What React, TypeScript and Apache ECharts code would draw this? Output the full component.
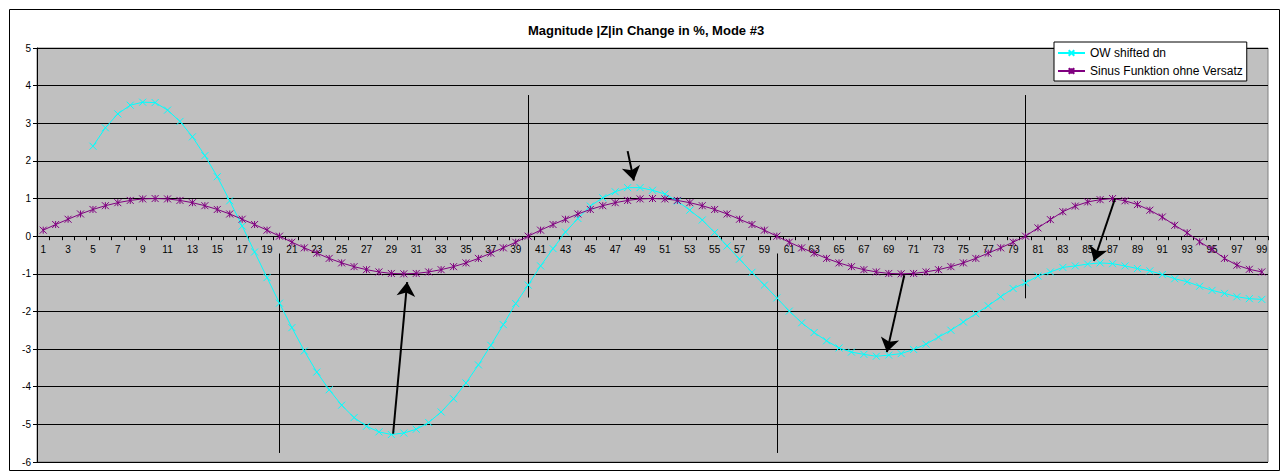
import React, { useEffect, useRef } from "react";
import * as echarts from "echarts";

const categories: string[] = Array.from({ length: 99 }, (_, i) => String(i + 1));

const owShiftedDn: (number | null)[] = [
  null, null, null, null,
  2.39, 2.88, 3.25, 3.48, 3.56, 3.55, 3.35, 3.05, 2.64, 2.14, 1.58, 0.94, 0.27, -0.42, -1.10, -1.78,
  -2.43, -3.05, -3.61, -4.08, -4.49, -4.82, -5.05, -5.20, -5.27, -5.23, -5.13, -4.95, -4.67, -4.32, -3.90, -3.42,
  -2.90, -2.35, -1.79, -1.30, -0.79, -0.33, 0.11, 0.47, 0.80, 1.02, 1.18, 1.29, 1.29, 1.22, 1.12, 0.93,
  0.69, 0.43, 0.10, -0.26, -0.61, -0.96, -1.30, -1.64, -1.99, -2.30, -2.56, -2.78, -2.97, -3.08, -3.14, -3.19,
  -3.16, -3.12, -3.01, -2.87, -2.68, -2.50, -2.28, -2.06, -1.85, -1.61, -1.39, -1.24, -1.06, -0.95, -0.83, -0.79,
  -0.74, -0.71, -0.73, -0.79, -0.86, -0.92, -1.02, -1.13, -1.21, -1.33, -1.44, -1.52, -1.61, -1.66, -1.68,
];

const sinusOhneVersatz: number[] = [
  0.16, 0.31, 0.45, 0.59, 0.71, 0.81, 0.89, 0.95, 0.99, 1.0, 0.99, 0.95, 0.89, 0.81, 0.71, 0.59, 0.45, 0.31, 0.16, 0,
  -0.16, -0.31, -0.45, -0.59, -0.71, -0.81, -0.89, -0.95, -0.99, -1.0, -0.99, -0.95, -0.89, -0.81, -0.71, -0.59, -0.45, -0.31, -0.16, 0,
  0.16, 0.31, 0.45, 0.59, 0.71, 0.81, 0.89, 0.95, 0.99, 1.0, 0.99, 0.95, 0.89, 0.81, 0.71, 0.59, 0.45, 0.31, 0.16, 0,
  -0.16, -0.31, -0.45, -0.59, -0.71, -0.81, -0.89, -0.95, -0.99, -1.0, -0.99, -0.95, -0.89, -0.81, -0.71, -0.59, -0.45, -0.31, -0.16, 0,
  0.22, 0.44, 0.65, 0.80, 0.91, 0.97, 1.0, 0.94, 0.84, 0.69, 0.51, 0.29, 0.09, -0.15, -0.35, -0.59, -0.77, -0.88, -0.95,
];

// vertical marker lines: [x, yTop, yBottom]
const markerLines: number[][] = [
  [20, -0.46, -5.76],
  [40, 3.75, -1.63],
  [60, -0.46, -5.76],
  [80, 3.75, -1.65],
];

// arrows: [xTail, yTail, xTip, yTip]
const arrows: number[][] = [
  [29.14, -5.25, 30.27, -1.22],
  [48.0, 2.26, 48.5, 1.48],
  [70.25, -1.04, 68.85, -3.08],
  [87.2, 1.0, 85.5, -0.66],
];

const Y_MIN = -6;
const Y_MAX = 5;

const FONT = "Arial, 'Liberation Sans', sans-serif";
const CROSS = "path://M0,0L10,10M10,0L0,10";
const STAR = "path://M0,0L10,10M10,0L0,10M5,0L5,10";

const GRID_POS = { left: 37, top: 48, right: 14, bottom: 13 };
const PLOT_HEIGHT = 475 - GRID_POS.top - GRID_POS.bottom;
// distance of the zero line above the plot's bottom edge
const ZERO_OFFSET = (PLOT_HEIGHT * (0 - Y_MIN)) / (Y_MAX - Y_MIN);

export default function App() {
  const ref = useRef<HTMLDivElement>(null);
  useEffect(() => {
    if (!ref.current) return;
    const chart = echarts.init(ref.current, undefined, { renderer: "svg" });
    chart.setOption({
      animation: false,
      backgroundColor: "#ffffff",
      title: {
        text: "Magnitude |Z|in Change in %, Mode #3",
        left: 646,
        top: 24,
        textAlign: "center",
        textStyle: { fontFamily: FONT, fontSize: 13, fontWeight: "bold", color: "#000" },
        padding: 0,
      },
      legend: {
        orient: "vertical",
        left: 1054,
        top: 42,
        padding: [4, 4, 3, 3],
        itemGap: 4,
        itemWidth: 27,
        itemHeight: 7,
        backgroundColor: "#ffffff",
        borderColor: "#000000",
        borderWidth: 1,
        textStyle: { fontFamily: FONT, fontSize: 12, color: "#000", lineHeight: 14 },
        data: ["OW shifted dn", "Sinus Funktion ohne Versatz"],
      },
      graphic: [
        {
          type: "rect",
          shape: { x: 9.5, y: 9.5, width: 1270, height: 461 },
          style: { fill: "none", stroke: "#000", lineWidth: 1 },
          silent: true,
          z: -10,
        },
      ],
      grid: [
        {
          ...GRID_POS,
          show: true,
          backgroundColor: "#C0C0C0",
          borderColor: "#808080",
          borderWidth: 1,
        },
        { ...GRID_POS, show: false },
      ],
      xAxis: [
        {
          type: "category",
          gridIndex: 0,
          data: categories,
          boundaryGap: true,
          axisLine: { onZero: true, lineStyle: { color: "#000", width: 1 } },
          axisTick: { show: true, interval: 0, length: 4, lineStyle: { color: "#000" } },
          axisLabel: { show: false },
          splitLine: { show: false },
        },
        {
          type: "value",
          gridIndex: 1,
          min: 0.5,
          max: 99.5,
          show: false,
          splitLine: { show: false },
        },
        {
          type: "category",
          gridIndex: 1,
          position: "bottom",
          offset: -ZERO_OFFSET,
          data: categories,
          boundaryGap: true,
          axisLine: { show: false, onZero: false },
          axisTick: { show: false },
          axisLabel: { interval: 1, fontFamily: FONT, fontSize: 10, color: "#000", margin: 8 },
          splitLine: { show: false },
        },
      ],
      yAxis: [
        {
          type: "value",
          gridIndex: 0,
          min: Y_MIN,
          max: Y_MAX,
          interval: 1,
          axisLine: { show: true, onZero: false, lineStyle: { color: "#000" } },
          axisTick: { show: true, length: 4, lineStyle: { color: "#000" } },
          axisLabel: { fontFamily: FONT, fontSize: 10, color: "#000", margin: 6 },
          splitLine: { show: true, lineStyle: { color: "#000", width: 1 } },
        },
        {
          type: "value",
          gridIndex: 1,
          min: Y_MIN,
          max: Y_MAX,
          interval: 1,
          show: false,
          splitLine: { show: false },
        },
      ],
      series: [
        {
          name: "OW shifted dn",
          type: "line",
          xAxisIndex: 0,
          yAxisIndex: 0,
          data: owShiftedDn,
          symbol: CROSS,
          symbolSize: 7,
          showSymbol: true,
          lineStyle: { color: "#00FFFF", width: 1 },
          itemStyle: { color: "#00FFFF", borderColor: "#00FFFF", borderWidth: 1 },
          emphasis: { disabled: true },
          z: 3,
        },
        {
          name: "Sinus Funktion ohne Versatz",
          type: "line",
          xAxisIndex: 0,
          yAxisIndex: 0,
          data: sinusOhneVersatz,
          symbol: STAR,
          symbolSize: 7,
          showSymbol: true,
          lineStyle: { color: "#800080", width: 1 },
          itemStyle: { color: "#800080", borderColor: "#800080", borderWidth: 1 },
          emphasis: { disabled: true },
          z: 4,
        },
        {
          name: "markers",
          type: "lines",
          coordinateSystem: "cartesian2d",
          xAxisIndex: 1,
          yAxisIndex: 1,
          symbol: ["none", "none"],
          lineStyle: { color: "#000", width: 1, opacity: 1 },
          data: markerLines.map((m) => ({ coords: [[m[0], m[1]], [m[0], m[2]]] })),
          silent: true,
          z: 2,
        },
        {
          name: "arrows",
          type: "lines",
          coordinateSystem: "cartesian2d",
          xAxisIndex: 1,
          yAxisIndex: 1,
          symbol: ["none", "arrow"],
          symbolSize: 14,
          lineStyle: { color: "#000", width: 2, opacity: 1 },
          data: arrows.map((a) => ({ coords: [[a[0], a[1]], [a[2], a[3]]] })),
          silent: true,
          z: 6,
        },
      ],
    });
    return () => chart.dispose();
  }, []);
  return <div ref={ref} style={{ position: "absolute", left: 0, top: 0, width: 1282, height: 475 }} />;
}
